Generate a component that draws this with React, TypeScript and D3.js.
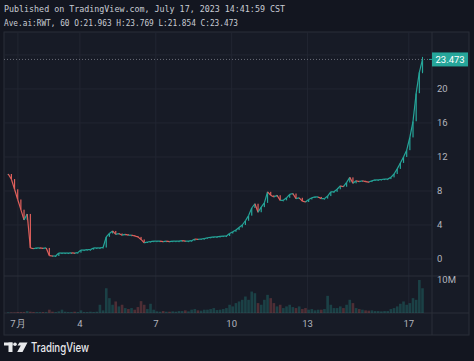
import React from "react";
import * as d3 from "d3";

// 3-hour bars starting July 1 04:00 (hours from July 1 00:00 = 4 + 3*i)
const closes: number[] = [
  10.0, 9.4, 8.2, 7.0, 5.8, 4.6, 5.3, 1.3, 1.2, 1.3,
  1.3, 1.25, 1.3, 0.4, 0.35, 0.35, 0.7, 0.7, 0.7, 0.7,
  0.72, 0.7, 0.75, 1.05, 1.05, 1.1, 1.1, 1.3, 1.3, 1.3,
  1.35, 2.6, 3.0, 3.3, 2.9, 3.0, 2.8, 2.9, 2.8, 2.8,
  2.7, 2.6, 2.3, 1.9, 2.0, 2.05, 2.1, 2.1, 2.1, 2.05,
  2.1, 2.05, 2.1, 2.1, 2.1, 2.15, 2.1, 2.1, 2.15,
  2.35, 2.3, 2.35, 2.4, 2.5, 2.55, 2.6, 2.6, 2.65, 2.7,
  2.7, 3.0, 3.2, 3.4, 3.7, 4.0, 4.5, 5.1, 6.0, 6.5,
  5.5, 6.1, 6.6, 7.9, 7.5, 7.3, 7.5, 6.9, 6.9, 7.2,
  7.6, 7.7, 7.1, 7.2, 6.8, 6.7, 7.0, 7.2, 7.3, 7.3,
  7.1, 7.1, 7.4, 7.9, 7.9, 8.2, 8.6, 8.5, 9.0, 9.6,
  8.9, 9.2, 9.1, 9.2, 9.1, 9.05, 9.2, 9.3, 9.3,
  9.35, 9.4, 9.4, 9.6, 10.0, 10.6, 11.3, 12.0, 12.8, 14.3,
  16.2, 19.5, 21.963, 23.473,
];

// volume in millions
const volumes: number[] = [
  0.2, 0.2, 0.2, 0.3, 0.3, 0.3, 0.6, 0.4, 0.3, 0.3,
  0.3, 0.3, 0.3, 1.0, 0.4, 0.3, 0.5, 1.0, 0.4, 0.3,
  0.3, 0.4, 0.3, 0.8, 0.3, 0.3, 0.4, 0.3, 0.4, 2.5,
  0.8, 7.5, 4.5, 2.5, 3.5, 2.0, 2.5, 1.5, 1.2, 1.5,
  1.0, 1.8, 3.6, 2.5, 1.2, 2.8, 1.0, 0.5, 0.4, 0.6,
  0.4, 0.4, 0.5, 0.4, 0.6, 0.6, 0.8, 0.5, 1.0,
  1.2, 0.8, 0.7, 1.0, 1.0, 1.2, 1.5, 0.9, 1.0, 1.2,
  1.5, 2.5, 2.0, 3.0, 3.5, 4.0, 5.0, 4.0, 6.5, 6.0,
  3.0, 2.5, 4.0, 5.5, 4.5, 3.0, 2.0, 2.5, 1.5, 2.0,
  2.5, 1.8, 1.5, 2.0, 1.2, 1.5, 1.0, 1.2, 0.8, 1.0,
  1.0, 1.2, 5.2, 2.5, 1.5, 1.5, 2.0, 1.5, 2.5, 4.0,
  3.0, 1.5, 1.2, 1.0, 0.8, 0.7, 0.8, 0.6, 0.6,
  0.5, 0.6, 0.6, 1.2, 1.5, 2.0, 2.8, 3.5, 2.5, 3.0,
  4.5, 4.0, 10.0, 7.5,
];

const lastOHLC = { o: 21.963, h: 23.769, l: 21.854, c: 23.473 };
const gridTicks: number[] = [0, 4, 8, 12, 16, 20, 24];
const priceLabels: number[] = [0, 4, 8, 12, 16, 20];
const timeTickDays: number[] = [0.55, 3, 6, 9, 12, 16];
const timeTickLabels: string[] = ["7月", "4", "7", "10", "13", "17"];
const headerLine1 = "Published on TradingView.com, July 17, 2023 14:41:59 CST";
const headerLine2 = "Ave.ai:RWT, 60 O:21.963 H:23.769 L:21.854 C:23.473";

const W = 474;
const H = 361;
const UP = "#26a69a";
const DOWN = "#e0605c";
const GRID = "#222632";
const AXIS_TEXT = "#b2b5be";

export default function App() {
  const left = 4;
  const axisX = 432;
  const right = 469;
  const top = 32;
  const paneSep = 276;
  const volBase = 313;
  const bottom = 335;

  const x = d3.scaleLinear().domain([0, 17]).range([4, 4 + 25.3 * 17]);
  const y = d3.scaleLinear().domain([-2, 26.7]).range([paneSep, top]);
  const yv = d3.scaleLinear().domain([0, 10]).range([volBase, 280]);

  const barDay = (i: number) => (4 + 3 * i) / 24;
  const bw = 1.2;
  const vw = 2.6;

  const bars = closes.map((c, i) => {
    const o = i === 0 ? c : closes[i - 1];
    const up = c >= o;
    const cx = x(barDay(i));
    const px = i === 0 ? cx : x(barDay(i - 1));
    return { i, o, c, up, cx, px };
  });

  const lastX = x(barDay(closes.length - 1));
  const lastY = y(lastOHLC.c);
  const mono = "'DejaVu Sans Mono', 'Liberation Mono', monospace";
  const sans = "Roboto, 'Noto Sans', 'DejaVu Sans', sans-serif";

  return (
    <svg
      width={W}
      height={H}
      style={{ position: "absolute", left: 0, top: 0, display: "block" }}
    >
      <rect x={0} y={0} width={W} height={H} fill="#131620" />
      <text x={4} y={12} fill="#c9ccd4" fontFamily={mono} fontSize={9} textLength={281} lengthAdjust="spacingAndGlyphs">
        {headerLine1}
      </text>
      <text x={4} y={25.5} fill="#c9ccd4" fontFamily={mono} fontSize={9} textLength={234} lengthAdjust="spacingAndGlyphs">
        {headerLine2}
      </text>

      {/* chart frame */}
      <rect x={left} y={top} width={right - left} height={bottom - top} fill="#171b26" stroke="#2a2e39" strokeWidth={1} />

      {/* horizontal grid */}
      {gridTicks.map((t) => (
        <line key={"hg" + t} x1={left} x2={axisX} y1={y(t)} y2={y(t)} stroke={GRID} strokeWidth={1} />
      ))}
      {/* vertical grid */}
      {timeTickDays.map((d, k) => (
        <line key={"vg" + k} x1={x(d)} x2={x(d)} y1={top} y2={volBase} stroke={GRID} strokeWidth={1} />
      ))}
      {/* pane separators */}
      <line x1={left} x2={right} y1={paneSep} y2={paneSep} stroke="#2a2e39" />
      <line x1={left} x2={right} y1={volBase} y2={volBase} stroke="#2a2e39" />
      <line x1={axisX} x2={axisX} y1={top} y2={bottom} stroke="#2a2e39" />

      {/* volume */}
      {bars.map((b) => (
        <rect
          key={"v" + b.i}
          x={b.cx - vw / 2}
          y={yv(volumes[b.i])}
          width={vw}
          height={volBase - yv(volumes[b.i])}
          fill={b.up ? UP : DOWN}
          fillOpacity={0.28}
        />
      ))}

      {/* last price dotted line */}
      <line x1={left} x2={axisX} y1={lastY} y2={lastY} stroke="#6a6d78" strokeDasharray="1,2" strokeWidth={1} />

      {/* candles drawn as connected thin bodies */}
      <line x1={lastX} x2={lastX} y1={y(lastOHLC.h)} y2={y(lastOHLC.l)} stroke={UP} strokeWidth={1} />
      {bars.map((b) => (
        <g key={"c" + b.i}>
          <line
            x1={b.px}
            x2={b.cx}
            y1={y(b.o)}
            y2={y(b.c)}
            stroke={b.up ? UP : DOWN}
            strokeWidth={1.2}
          />
          <rect
            x={b.cx - bw / 2}
            y={y(Math.max(b.o, b.c))}
            width={bw}
            height={Math.max(1, Math.abs(y(b.o) - y(b.c)))}
            fill={b.up ? UP : DOWN}
          />
        </g>
      ))}

      {/* price axis labels */}
      {priceLabels.map((t) => (
        <text key={"pl" + t} x={437} y={y(t)} dy="0.35em" fill={AXIS_TEXT} fontFamily={sans} fontSize={9.5}>
          {t}
        </text>
      ))}
      <text x={437} y={yv(10)} dy="0.35em" fill={AXIS_TEXT} fontFamily={sans} fontSize={9.5}>
        10M
      </text>

      {/* last price tag */}
      <rect x={axisX} y={lastY - 7} width={36} height={14} fill={UP} />
      <line x1={axisX - 3} x2={axisX} y1={lastY} y2={lastY} stroke={UP} />
      <text x={435.5} y={lastY} dy="0.35em" fill="#ffffff" fontFamily={sans} fontSize={9.5}>
        {lastOHLC.c.toFixed(3)}
      </text>

      {/* time axis labels */}
      {timeTickDays.map((d, k) => (
        <text key={"tl" + k} x={x(d)} y={327} textAnchor="middle" fill={AXIS_TEXT} fontFamily={sans} fontSize={9.5}>
          {timeTickLabels[k]}
        </text>
      ))}

      {/* footer logo */}
      <g fill="#e8e9ec">
        <rect x={4} y={342.5} width={8.5} height={3} />
        <rect x={8.5} y={342.5} width={4} height={9.5} />
        <circle cx={15} cy={344.2} r={1.8} />
        <polygon points="19.5,342.5 27.5,342.5 22.5,352 17.2,352 20.8,345.6 17.5,345.6" />
      </g>
      <text x={31} y={352} fill="#e8e9ec" fontFamily="Inter, 'Noto Sans', sans-serif" fontWeight={500} fontSize={12.5} textLength={58} lengthAdjust="spacingAndGlyphs">
        TradingView
      </text>
    </svg>
  );
}
